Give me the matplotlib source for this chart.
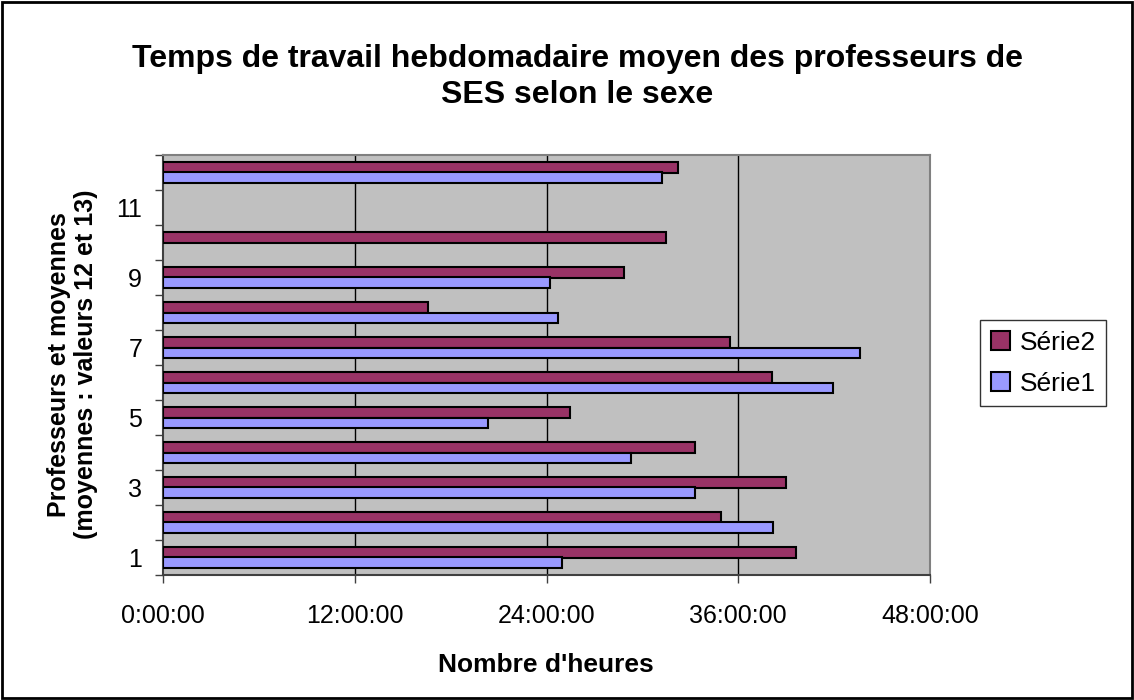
# Temps de travail hebdomadaire moyen des professeurs de SES selon le sexe
import numpy as np
import matplotlib
matplotlib.use('Agg')
import matplotlib.pyplot as plt
from matplotlib.ticker import FixedLocator, FuncFormatter
from matplotlib.patches import Rectangle

plt.rcParams['font.family'] = ['Liberation Sans', 'DejaVu Sans']

# data (hours), categories 1..12 ; nan = no bar
categories = np.arange(1, 13)
serie1 = [25.0, 38.2, 33.3, 29.3, 20.35, 41.9, 43.6, 24.7, 24.2, np.nan, np.nan, 31.2]
serie2 = [39.6, 34.9, 39.0, 33.3, 25.5, 38.1, 35.5, 16.6, 28.85, 31.5, np.nan, 32.2]
ytick_labels = ['1', '3', '5', '7', '9', '11']
xticks_hours = [0, 12, 24, 36, 48]

title = "Temps de travail hebdomadaire moyen des professeurs de\nSES selon le sexe"
xlabel = "Nombre d'heures"
ylabel = "Professeurs et moyennes\n(moyennes : valeurs 12 et 13)"

col_s1 = '#9999FF'
col_s2 = '#993366'

fig = plt.figure(figsize=(11.34, 7.0), dpi=100)
ax = fig.add_axes([163 / 1134, 1 - 575 / 700, (930 - 163) / 1134, 420 / 700])
ax.set_facecolor('#C0C0C0')

h = 0.31
s1 = np.array(serie1, dtype=float)
s2 = np.array(serie2, dtype=float)
m1 = ~np.isnan(s1)
m2 = ~np.isnan(s2)
ax.barh(categories[m2] + h / 2, s2[m2], height=h, color=col_s2, edgecolor='black',
        linewidth=1.5, label='Série2', zorder=3)
ax.barh(categories[m1] - h / 2, s1[m1], height=h, color=col_s1, edgecolor='black',
        linewidth=1.5, label='Série1', zorder=3)

ax.set_xlim(0, 48)
ax.set_ylim(0.5, 12.5)

# x axis: h:mm:ss labels
ax.set_xticks(xticks_hours)
ax.set_xticklabels(['%d:00:00' % v for v in xticks_hours], family='Liberation Sans')
for v in xticks_hours[1:-1]:
    ax.axvline(v, color='black', linewidth=1, zorder=1)

# y axis: ticks at category boundaries, labels on every other category
ax.yaxis.set_major_locator(FixedLocator(np.arange(0.5, 13, 1)))
ax.yaxis.set_major_formatter(FuncFormatter(lambda v, p: ''))
ax.yaxis.set_minor_locator(FixedLocator([int(t) for t in ytick_labels]))
ax.set_yticklabels(ytick_labels, minor=True, family='Liberation Sans')

ax.tick_params(axis='x', which='major', direction='out', length=6, width=1,
               color='#404040', labelsize=18, pad=15)
ax.tick_params(axis='y', which='major', direction='out', length=6, width=1,
               color='#404040')
ax.tick_params(axis='y', which='minor', length=0, labelsize=18, pad=15)

for side in ['top', 'right']:
    ax.spines[side].set_color('#808080')
    ax.spines[side].set_linewidth(1.5)
for side in ['left', 'bottom']:
    ax.spines[side].set_color('#404040')
    ax.spines[side].set_linewidth(1.5)

fig.text(0.509, 0.89, title, ha='center', va='center', fontsize=23,
         fontweight='bold', linespacing=1.3)
fig.text(0.4815, 0.05, xlabel, ha='center', va='center', fontsize=19, fontweight='bold')
fig.text(0.064, 0.479, ylabel, ha='center', va='center', rotation=90,
         fontsize=18, fontweight='bold', linespacing=1.2)

leg = fig.legend(loc='upper left', bbox_to_anchor=(980 / 1134, 1 - 320 / 700), fontsize=19,
                 frameon=True, fancybox=False, edgecolor='black', handlelength=0.75,
                 handleheight=0.75, handletextpad=0.35, borderpad=0.4, borderaxespad=0,
                 labelspacing=0.65)
leg.get_frame().set_linewidth(1)

# outer chart border
fig.patches.append(Rectangle((0.002, 0.003), 0.996, 0.994, transform=fig.transFigure,
                             fill=False, edgecolor='black', linewidth=2))

fig.savefig('out.png', dpi=100)
